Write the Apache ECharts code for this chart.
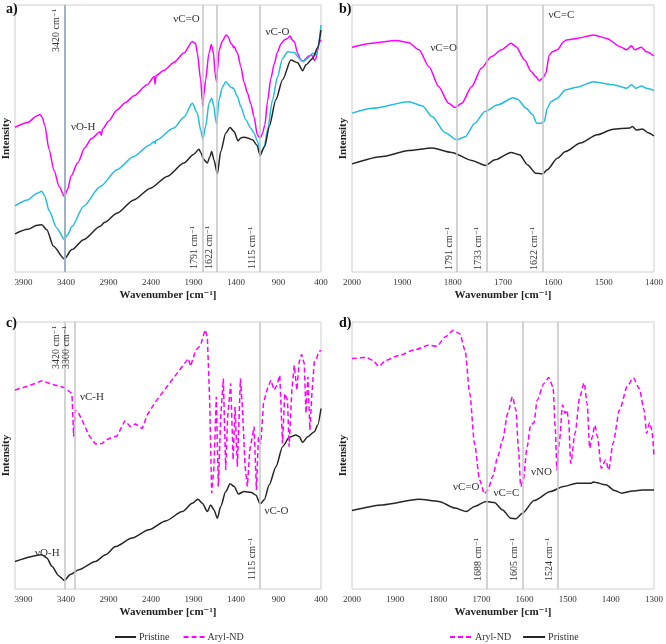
<!DOCTYPE html>
<html>
<head>
<meta charset="utf-8">
<script src="https://cdn.jsdelivr.net/npm/echarts@6/dist/echarts.min.js"></script>
<style>
  html, body { margin: 0; padding: 0; background: #fff; }
  #chart { width: 666px; height: 644px; }
</style>
</head>
<body>
<div id="chart"></div>
<script>
// tick labels
const wideTicks = [400, 900, 1400, 1900, 2400, 2900, 3400, 3900]
const ticksB = [1400, 1500, 1600, 1700, 1800, 1900, 2000]
const ticksD = [1300, 1400, 1500, 1600, 1700, 1800, 1900, 2000]

// panel a) full range spectra [wavenumber, intensity]
const aMagenta = [[4000,54.2],[3850,56],[3740,58.5],[3705,59],[3680,58],[3650,55],[3600,46],[3540,38],[3480,32],[3420,28.3],[3380,31],[3340,36],[3260,41],[3180,46.5],[3100,50],[3000,52.5],[2985,51.2],[2970,53.5],[2900,56.5],[2800,60.7],[2700,63.5],[2600,66],[2450,70],[2360,73.2],[2352,70.3],[2342,73.5],[2250,75.5],[2131,78.5],[2013,82],[1914,86.3],[1875,85.5],[1855,82],[1816,72],[1796,64],[1791,62],[1780,66],[1757,72],[1718,82],[1690,85.2],[1665,82],[1645,74],[1627,71.3],[1619,75],[1600,83],[1560,86.5],[1517,88.8],[1490,88],[1462,85.7],[1440,85],[1430,84],[1423,84.5],[1383,82],[1344,77],[1305,71],[1265,67],[1226,63],[1187,58],[1150,51.5],[1128,50.5],[1108,50.5],[1088,52],[1061,55],[1029,64],[990,72.5],[950,78],[911,82.5],[870,85.5],[832,86.9],[793,87.5],[765,88.4],[740,87],[714,86.3],[675,81.9],[640,79.5],[610,78.8],[577,80],[540,81],[510,81.3],[478,79.2],[459,80],[440,83],[419,86],[400,87]]
const aCyan = [[4000,24.8],[3850,27],[3740,29.5],[3685,30.2],[3650,28.5],[3600,23],[3508,16.5],[3420,12.3],[3380,14],[3331,17],[3193,24.6],[2997,32],[2800,38.3],[2603,43.3],[2420,47.5],[2360,48.9],[2352,48],[2342,49.3],[2131,53.9],[2013,58],[1914,63.2],[1855,59.5],[1816,53.2],[1791,49.8],[1757,54.5],[1718,63.2],[1686,65.1],[1659,62],[1640,57],[1627,55.5],[1600,64.5],[1560,69.2],[1521,71.3],[1462,69.2],[1430,68.8],[1383,65.7],[1344,62],[1285,57],[1226,53.9],[1187,52],[1147,48.9],[1108,44.5],[1068,47],[1029,53.2],[970,64.5],[911,73.2],[852,80],[793,82.5],[714,82.2],[655,80],[608,78.8],[557,80],[498,81.9],[459,81.3],[430,85],[400,92.5]]
const aBlack = [[4000,14.3],[3850,16],[3740,17.5],[3685,17.7],[3626,15.8],[3547,9.6],[3420,4.9],[3331,8.4],[3193,12.1],[2997,17.1],[2950,18.5],[2800,22],[2603,27],[2406,31.4],[2210,35.8],[2013,40.8],[1900,44],[1836,46],[1810,44.5],[1785,42.3],[1737,40.8],[1710,43],[1686,45.1],[1660,42],[1619,36.8],[1580,45.1],[1521,52],[1470,54.1],[1423,52.6],[1375,49.1],[1344,50.2],[1305,50.5],[1265,50.2],[1206,49.5],[1155,47.6],[1115,43.5],[1108,43.5],[1061,47],[1009,54.5],[931,64.5],[852,72],[754,79.4],[675,78.4],[616,75.4],[577,77.6],[498,80],[440,84],[400,90.6]]

// panel b) 2000-1400 zoom
const bMagenta = [[2000,84.2],[1959,85.7],[1913,86.7],[1887,85.9],[1867,83.2],[1847,76.9],[1828,69.5],[1808,63.2],[1795,61.6],[1782,63.2],[1762,69.5],[1743,76.3],[1723,80.7],[1703,83.2],[1684,85.7],[1674,84.4],[1657,79.4],[1644,75.1],[1635,73.2],[1628,71.7],[1621,72.6],[1615,74.4],[1608,81.3],[1602,82.5],[1592,83.2],[1579,86.3],[1574,86.9],[1553,87.5],[1520,88.8],[1494,87.5],[1467,84.4],[1454,83.2],[1445,84.7],[1438,83.2],[1425,84.2],[1415,82.5],[1400,80.9]]
const bCyan = [[2000,59.5],[1959,61.3],[1887,63.8],[1860,62.2],[1841,58.2],[1815,52.2],[1792,49.5],[1775,50.7],[1756,55.7],[1736,60.1],[1710,62.6],[1680,65.3],[1671,64.7],[1654,61.3],[1641,58.9],[1633,55.7],[1625,55.7],[1618,56.4],[1612,61.3],[1605,63.8],[1592,65.1],[1576,68.2],[1553,69.2],[1520,71.3],[1481,70.1],[1454,68.8],[1445,70.1],[1436,68.8],[1425,69.7],[1415,68.8],[1400,68.0]]
const bBlack = [[2000,40.5],[1939,43.3],[1887,45.5],[1841,46.4],[1802,44.8],[1762,41.8],[1735,39.9],[1716,42.0],[1684,44.8],[1667,43.9],[1651,40.1],[1635,37.0],[1621,36.8],[1612,38.3],[1592,42.6],[1576,45.1],[1546,48.3],[1513,51.4],[1481,53.5],[1448,53.9],[1443,54.5],[1435,53.2],[1423,53.6],[1412,52.2],[1400,51.0]]

// panel c) pristine vs aryl-ND, full range
const cPristine = [[4000,10.3],[3683,12.8],[3625,11.6],[3566,8.5],[3487,5.0],[3420,3.2],[3349,5.4],[3251,7.2],[3054,10.3],[2936,12.8],[2818,15.9],[2622,19.1],[2425,22.2],[2228,25.5],[2032,29.0],[1914,32.1],[1847,33.6],[1796,32.1],[1737,29.0],[1698,31.5],[1659,29.6],[1619,26.5],[1580,30.9],[1521,36.5],[1469,39.4],[1422,38.4],[1371,35.6],[1304,36.5],[1226,36.2],[1167,35.2],[1115,31.9],[1068,33.4],[1009,39.0],[930,45.8],[852,53.3],[773,56.8],[694,57.7],[655,57.0],[616,54.9],[557,57.0],[478,58.9],[439,61.4],[400,67.6]]
const cAryl = [[4000,74.5],[3820,76.3],[3683,78.0],[3566,76.7],[3428,75.5],[3330,73.2],[3310,57],[3290,67],[3251,65.8],[3192,62],[3133,57.7],[3054,54.3],[2976,54.5],[2917,56.0],[2858,56.8],[2799,57.3],[2709,63.0],[2642,60.8],[2583,61.8],[2504,60.1],[2445,65.1],[2347,70.1],[2228,75.1],[2110,80.1],[2012,84.2],[1961,86.3],[1934,83.4],[1875,89.4],[1816,91.3],[1764,97.1],[1737,94.4],[1710,70.7],[1686,35.9],[1659,45.8],[1632,72],[1608,38.4],[1580,64.5],[1549,78.8],[1521,44.6],[1498,64.5],[1462,77],[1434,48.3],[1411,68.2],[1384,45.8],[1348,78.8],[1325,68.2],[1293,45.8],[1266,38.4],[1238,52.1],[1215,55.8],[1187,60.8],[1160,37.1],[1136,57],[1108,54.5],[1077,69.5],[1030,75.1],[990,78.2],[951,74.5],[920,76.3],[885,80.1],[853,54.5],[826,73.2],[794,70.7],[775,53.3],[743,74.5],[715,83.8],[684,74.5],[656,85.1],[629,87.9],[597,84.4],[577,65.8],[554,79.5],[530,59.5],[507,73.2],[479,85.1],[452,86.3],[428,88.8],[400,89.4]]

// panel d) 2000-1300 zoom
const dAryl = [[2000,86.3],[1967,86.7],[1952,85.7],[1938,83.4],[1921,85.7],[1891,87.5],[1853,89.7],[1822,91.3],[1803,90.9],[1784,94.4],[1765,96.9],[1750,95.6],[1738,89.4],[1727,73.2],[1716,54.5],[1704,40.8],[1693,35.6],[1685,37.1],[1674,42.1],[1662,49.6],[1651,55.8],[1639,65.8],[1628,72.0],[1620,67],[1614,52.1],[1609,38.4],[1603,40.8],[1594,53.3],[1586,61.4],[1578,62.3],[1571,70.7],[1555,77],[1544,79.2],[1534,75.7],[1529,60.8],[1525,44.6],[1519,55.8],[1512,68.9],[1506,65.8],[1502,67],[1498,63.3],[1493,47.1],[1483,58.3],[1472,72.0],[1462,77.2],[1455,69.5],[1449,52.7],[1443,57.0],[1437,61.4],[1431,57.0],[1422,45.2],[1412,48.3],[1405,44.6],[1395,54.5],[1380,67],[1361,76.3],[1348,79.1],[1334,75.1],[1323,67],[1317,58.3],[1310,62.3],[1305,59.5],[1300,49.6]]
const dPristine = [[2000,29.4],[1929,31.5],[1845,33.6],[1799,32.8],[1761,30.3],[1735,29.0],[1716,30.9],[1689,32.8],[1670,32.4],[1651,29.6],[1632,26.5],[1620,26.3],[1605,28.4],[1578,33.1],[1540,36.5],[1510,38.4],[1479,39.6],[1445,39.6],[1441,40.1],[1411,39.0],[1392,36.9],[1374,35.9],[1350,36.7],[1327,37.1],[1300,37.1]]

// marked wavenumbers
const linesA = [3420, 1791, 1622, 1115]
const linesB = [1791, 1733, 1622]
const linesC = [3420, 3300, 1115]
const linesD = [1688, 1605, 1524]

const SERIF = "'Liberation Serif', 'DejaVu Serif', serif"
const MAGENTA = '#ff00ff'
const CYAN = '#22bde0'
const BLACK = '#262626'

const grids = [
  { left: 15, top: 5, width: 306, height: 267 },
  { left: 352, top: 5, width: 305, height: 267 },
  { left: 15, top: 322, width: 306, height: 267 },
  { left: 352, top: 322, width: 306, height: 267 }
].map(g => Object.assign(g, { show: true, borderColor: '#cfcfcf', borderWidth: 1 }))

function xAxisFor (gridIndex, min, max, ticks) {
  return {
    type: 'value', gridIndex, min, max, inverse: true,
    name: 'Wavenumber [cm⁻¹]', nameLocation: 'middle', nameGap: 18,
    nameTextStyle: { fontFamily: SERIF, fontWeight: 'bold', fontSize: 11, color: '#222' },
    axisLine: { show: false }, axisTick: { show: false }, splitLine: { show: false },
    axisLabel: { customValues: ticks, formatter: v => String(v), margin: 6, fontFamily: SERIF, fontSize: 9, color: '#333' }
  }
}

function yAxisFor (gridIndex) {
  return {
    type: 'value', gridIndex, min: 0, max: 100,
    name: 'Intensity', nameLocation: 'middle', nameGap: 3, nameRotate: 90,
    nameTextStyle: { fontFamily: SERIF, fontWeight: 'bold', fontSize: 11, color: '#222' },
    axisLine: { show: false }, axisTick: { show: false }, axisLabel: { show: false }, splitLine: { show: false }
  }
}

function marks (values, topSet, along, special) {
  return {
    silent: true,
    symbol: ['none', 'none'],
    animation: false,
    data: values.map(v => ({
      xAxis: v,
      lineStyle: special === v ? { color: '#9fb2c9', width: 2, type: 'solid' } : { color: '#c4c4c4', width: 1.5, type: 'solid' },
      label: {
        show: true,
        position: topSet.includes(v) ? 'insideEndTop' : 'insideStartTop',
        distance: [topSet.includes(v) ? 4 : along, 3],
        formatter: v + ' cm⁻¹',
        fontFamily: SERIF, fontSize: 10, color: '#333'
      }
    }))
  }
}

function notes (list) {
  return {
    symbol: 'circle', symbolSize: 0, silent: true, animation: false,
    label: { show: true, position: 'inside', formatter: p => p.name, fontFamily: SERIF, fontSize: 11, color: '#333' },
    data: list.map(n => ({ name: n[0], coord: [n[1], n[2]] }))
  }
}

function line (name, idx, data, color, dashed, extra) {
  return Object.assign({
    name, type: 'line', xAxisIndex: idx, yAxisIndex: idx, data,
    symbol: 'none', smooth: 0.25, smoothMonotone: 'x',
    lineStyle: { color, width: 1.5, type: dashed ? [5, 3] : 'solid' },
    itemStyle: { color }
  }, extra || {})
}

const option = {
  animation: false,
  grid: grids,
  xAxis: [
    xAxisFor(0, 400, 4000, wideTicks),
    xAxisFor(1, 1400, 2000, ticksB),
    xAxisFor(2, 400, 4000, wideTicks),
    xAxisFor(3, 1300, 2000, ticksD)
  ],
  yAxis: [yAxisFor(0), yAxisFor(1), yAxisFor(2), yAxisFor(3)],
  legend: [
    {
      data: ['Pristine', 'Aryl-ND'], left: 109, top: 627, itemWidth: 21, itemHeight: 10, itemGap: 13,
      selectedMode: false, itemStyle: { opacity: 0 },
      textStyle: { fontFamily: SERIF, fontSize: 10, color: '#333', padding: [0, 0, 0, -2] }
    },
    {
      data: ['Aryl-ND', 'Pristine'], left: 444, top: 627, itemWidth: 22, itemHeight: 10, itemGap: 11,
      selectedMode: false, itemStyle: { opacity: 0 },
      textStyle: { fontFamily: SERIF, fontSize: 10, color: '#333', padding: [0, 0, 0, -2] }
    }
  ],
  graphic: [
    { type: 'text', left: 6, top: 2, style: { text: 'a)', font: 'bold 14px ' + SERIF, fill: '#111' } },
    { type: 'text', left: 339, top: 2, style: { text: 'b)', font: 'bold 14px ' + SERIF, fill: '#111' } },
    { type: 'text', left: 6, top: 316, style: { text: 'c)', font: 'bold 14px ' + SERIF, fill: '#111' } },
    { type: 'text', left: 339, top: 316, style: { text: 'd)', font: 'bold 14px ' + SERIF, fill: '#111' } }
  ],
  series: [
    line('a-magenta', 0, aMagenta, MAGENTA, false, {
      markLine: marks(linesA, [3420], 3, 3420),
      markPoint: notes([['νC=O', 1982, 94.8], ['νO-H', 3198, 54.3], ['νC-O', 912, 89.8]])
    }),
    line('a-cyan', 0, aCyan, CYAN, false),
    line('a-black', 0, aBlack, BLACK, false),
    line('b-magenta', 1, bMagenta, MAGENTA, false, {
      markLine: marks(linesB, [], 2),
      markPoint: notes([['νC=O', 1818, 83.8], ['νC=C', 1584, 96.3]])
    }),
    line('b-cyan', 1, bCyan, CYAN, false),
    line('b-black', 1, bBlack, BLACK, false),
    line('Pristine', 2, cPristine, BLACK, false, {
      markLine: marks(linesC, [3420, 3300], 9),
      markPoint: notes([['νC-H', 3095, 72], ['νO-H', 3619, 13.6], ['νC-O', 924, 29.3]])
    }),
    line('Aryl-ND', 2, cAryl, MAGENTA, true, { smooth: false }),
    line('Aryl-ND', 3, dAryl, MAGENTA, true, {
      markLine: marks(linesD, [], 8),
      markPoint: notes([['νC=O', 1735, 38.3], ['νC=C', 1642, 35.8], ['νNO', 1561, 43.6]])
    }),
    line('Pristine', 3, dPristine, BLACK, false)
  ]
}

const dom = echarts.init(document.getElementById('chart'), null, { renderer: 'canvas' })
dom.setOption(option)
</script>
</body>
</html>
